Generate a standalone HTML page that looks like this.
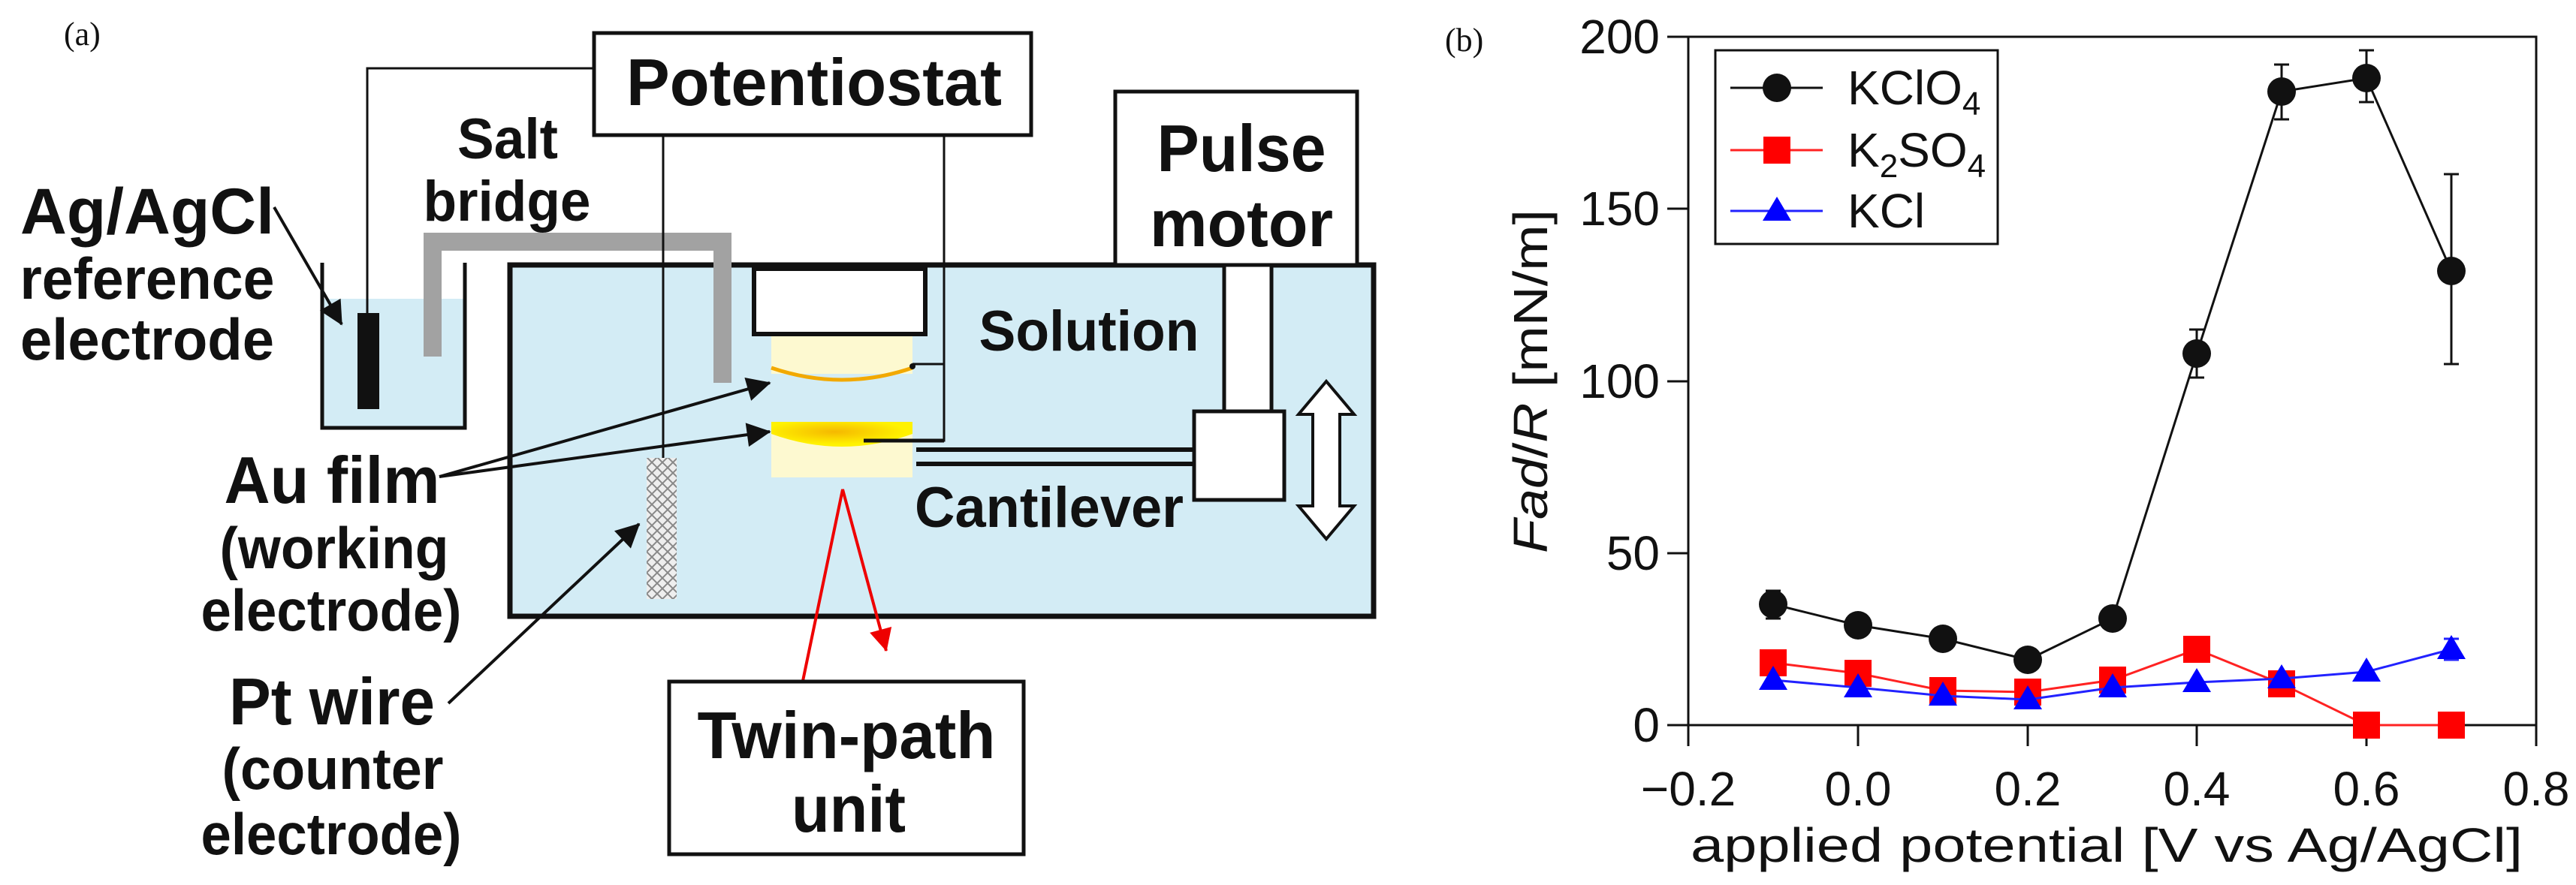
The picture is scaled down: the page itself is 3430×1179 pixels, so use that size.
<!DOCTYPE html>
<html><head><meta charset="utf-8"><style>
html,body{margin:0;padding:0;background:#fff;}
svg{display:block;}
.b{font-family:"Liberation Sans",sans-serif;font-weight:bold;fill:#111;}
.p{font-family:"Liberation Sans",sans-serif;fill:#111;}
</style></head><body>
<svg width="3430" height="1179" viewBox="0 0 3430 1179" xmlns="http://www.w3.org/2000/svg">
<defs>
<marker id="ah" markerWidth="10" markerHeight="10" refX="8" refY="5" orient="auto" markerUnits="userSpaceOnUse" viewBox="0 0 10 10" style="overflow:visible">
<path d="M0,0 L10,5 L0,10 Z" fill="#111" transform="scale(3.2) translate(-7,-3.4)"/>
</marker>
<marker id="ahr" markerWidth="10" markerHeight="10" refX="8" refY="5" orient="auto" markerUnits="userSpaceOnUse" viewBox="0 0 10 10" style="overflow:visible">
<path d="M0,0 L10,5 L0,10 Z" fill="#e00" transform="scale(3) translate(-7,-3.4)"/>
</marker>
<pattern id="mesh" width="14" height="14" patternUnits="userSpaceOnUse">
<rect width="14" height="14" fill="#eee"/>
<path d="M0,0 L14,14 M14,0 L0,14" stroke="#888" stroke-width="2"/>
</pattern>
<radialGradient id="gold" cx="0.45" cy="0.4" r="0.5">
<stop offset="0" stop-color="#f5b800"/><stop offset="1" stop-color="#fff200"/>
</radialGradient>
</defs>

<text x="85" y="60" font-family="Liberation Serif,serif" font-size="44" fill="#111">(a)</text>

<rect x="679" y="353" width="1150" height="468" fill="#d3ecf5" stroke="#111" stroke-width="7"/>

<rect x="429" y="398" width="190" height="172" fill="#d3ecf5"/>
<path d="M429,350 L429,570 L619,570 L619,350" fill="none" stroke="#111" stroke-width="5"/>
<rect x="476" y="417" width="29" height="128" fill="#111"/>

<path d="M576,475 L576,322 L962,322 L962,510" fill="none" stroke="#a2a2a2" stroke-width="24"/>

<rect x="791" y="44" width="582" height="136" fill="#fff" stroke="#111" stroke-width="5"/>
<text class="b" x="1084" y="140" font-size="88" text-anchor="middle" textLength="500" lengthAdjust="spacingAndGlyphs">Potentiostat</text>

<path d="M791,91 L489,91 L489,417" fill="none" stroke="#111" stroke-width="3"/>
<path d="M883,180 L883,610" fill="none" stroke="#111" stroke-width="3"/>
<path d="M1257,180 L1257,587 L1150,587 M1257,485 L1215,485" fill="none" stroke="#111" stroke-width="3"/>

<rect x="1485" y="122" width="322" height="231" fill="#fff" stroke="#111" stroke-width="5"/>
<text class="b" x="1653" y="228" font-size="88" text-anchor="middle" textLength="225" lengthAdjust="spacingAndGlyphs">Pulse</text>
<text class="b" x="1653" y="328" font-size="88" text-anchor="middle" textLength="244" lengthAdjust="spacingAndGlyphs">motor</text>

<rect x="1004" y="358" width="228" height="87" fill="#fff" stroke="#111" stroke-width="6"/>
<rect x="1027" y="448" width="188" height="50" fill="#fdf9d0"/>
<path d="M1027,490 Q1121,522 1215,490" fill="none" stroke="#f2a900" stroke-width="5"/>
<circle cx="1215" cy="488" r="4" fill="#111"/>
<rect x="1027" y="562" width="188" height="74" fill="#fdf9d0"/>
<path d="M1027,562 L1215,562 L1215,578 Q1121,612 1027,578 Z" fill="url(#gold)"/>
<path d="M1150,587 L1257,587" stroke="#111" stroke-width="5"/>

<path d="M1220,599 L1600,599 M1220,618 L1600,618" stroke="#111" stroke-width="6"/>
<rect x="1630" y="353" width="63" height="196" fill="#fff" stroke="#111" stroke-width="5"/>
<rect x="1590" y="548" width="120" height="118" fill="#fff" stroke="#111" stroke-width="5"/>
<path d="M1766,508 L1803,552 L1784,552 L1784,674 L1803,674 L1766,718 L1729,674 L1748,674 L1748,552 L1729,552 Z" fill="#fff" stroke="#111" stroke-width="4"/>

<rect x="861" y="610" width="40" height="188" fill="url(#mesh)"/>

<text class="b" x="1450" y="467" font-size="76" text-anchor="middle" textLength="293" lengthAdjust="spacingAndGlyphs">Solution</text>
<text class="b" x="1397" y="702" font-size="76" text-anchor="middle" textLength="358" lengthAdjust="spacingAndGlyphs">Cantilever</text>
<text class="b" x="676" y="211" font-size="76" text-anchor="middle" textLength="134" lengthAdjust="spacingAndGlyphs">Salt</text>
<text class="b" x="675" y="294" font-size="76" text-anchor="middle" textLength="223" lengthAdjust="spacingAndGlyphs">bridge</text>

<text class="b" x="196" y="311" font-size="86" text-anchor="middle" textLength="338" lengthAdjust="spacingAndGlyphs">Ag/AgCl</text>
<text class="b" x="196" y="398" font-size="78" text-anchor="middle" textLength="339" lengthAdjust="spacingAndGlyphs">reference</text>
<text class="b" x="196" y="479" font-size="78" text-anchor="middle" textLength="338" lengthAdjust="spacingAndGlyphs">electrode</text>

<text class="b" x="442" y="670" font-size="88" text-anchor="middle" textLength="287" lengthAdjust="spacingAndGlyphs">Au film</text>
<text class="b" x="445" y="757" font-size="78" text-anchor="middle" textLength="305" lengthAdjust="spacingAndGlyphs">(working</text>
<text class="b" x="441" y="840" font-size="78" text-anchor="middle" textLength="347" lengthAdjust="spacingAndGlyphs">electrode)</text>

<text class="b" x="442" y="965" font-size="88" text-anchor="middle" textLength="274" lengthAdjust="spacingAndGlyphs">Pt wire</text>
<text class="b" x="443" y="1051" font-size="78" text-anchor="middle" textLength="295" lengthAdjust="spacingAndGlyphs">(counter</text>
<text class="b" x="441" y="1138" font-size="78" text-anchor="middle" textLength="347" lengthAdjust="spacingAndGlyphs">electrode)</text>

<g stroke="#111" stroke-width="4" fill="none">
<path d="M365,276 L455,432" marker-end="url(#ah)"/>
<path d="M585,635 L1025,510" marker-end="url(#ah)"/>
<path d="M585,635 L1025,575" marker-end="url(#ah)"/>
<path d="M597,937 L851,698" marker-end="url(#ah)"/>
</g>
<path d="M1069,907 L1122,652 L1180,867" fill="none" stroke="#e00" stroke-width="4" marker-end="url(#ahr)"/>

<rect x="891" y="908" width="472" height="230" fill="#fff" stroke="#111" stroke-width="5"/>
<text class="b" x="1127" y="1010" font-size="88" text-anchor="middle" textLength="397" lengthAdjust="spacingAndGlyphs">Twin-path</text>
<text class="b" x="1130" y="1108" font-size="88" text-anchor="middle" textLength="152" lengthAdjust="spacingAndGlyphs">unit</text>

<text x="1924" y="68" font-family="Liberation Serif,serif" font-size="44" fill="#111">(b)</text>

<g class="p" font-size="64">
<text x="2210" y="71" text-anchor="end">200</text>
<text x="2210" y="300" text-anchor="end">150</text>
<text x="2210" y="530" text-anchor="end">100</text>
<text x="2210" y="759" text-anchor="end">50</text>
<text x="2210" y="988" text-anchor="end">0</text>
<text x="2248" y="1073" text-anchor="middle">−0.2</text>
<text x="2474" y="1073" text-anchor="middle">0.0</text>
<text x="2700" y="1073" text-anchor="middle">0.2</text>
<text x="2925" y="1073" text-anchor="middle">0.4</text>
<text x="3151" y="1073" text-anchor="middle">0.6</text>
<text x="3377" y="1073" text-anchor="middle">0.8</text>
<text x="2805" y="1148" text-anchor="middle" textLength="1108" lengthAdjust="spacingAndGlyphs">applied potential [V vs Ag/AgCl]</text>
<text transform="translate(2060,508) rotate(-90)" text-anchor="middle" textLength="458" lengthAdjust="spacingAndGlyphs"><tspan font-style="italic">Fad</tspan>/<tspan font-style="italic">R</tspan> [mN/m]</text>
</g>

<rect x="2248" y="49" width="1129" height="917" fill="none" stroke="#111" stroke-width="3"/>
<g stroke="#111" stroke-width="3">
<path d="M2220,49 H2248 M2220,278 H2248 M2220,508 H2248 M2220,737 H2248 M2220,966 H2248"/>
<path d="M2248,966 V994 M2474,966 V994 M2700,966 V994 M2925,966 V994 M3151,966 V994 M3377,966 V994"/>
</g>

<g stroke="#111" stroke-width="3" fill="none">
<polyline points="2361,805 2474,833 2587,851 2700,879 2813,824 2925,471 3038,122 3151,104 3264,361"/>
<path d="M2361,824 V787 M2351,824 H2371 M2351,787 H2371"/>
<path d="M2925,503 V439 M2915,503 H2935 M2915,439 H2935"/>
<path d="M3038,159 V86 M3028,159 H3048 M3028,86 H3048"/>
<path d="M3151,136 V67 M3141,136 H3161 M3141,67 H3161"/>
<path d="M3264,485 V232 M3254,485 H3274 M3254,232 H3274"/>
</g>
<g fill="#111">
<circle cx="2361" cy="805" r="19"/><circle cx="2474" cy="833" r="19"/><circle cx="2587" cy="851" r="19"/>
<circle cx="2700" cy="879" r="19"/><circle cx="2813" cy="824" r="19"/><circle cx="2925" cy="471" r="19"/>
<circle cx="3038" cy="122" r="19"/><circle cx="3151" cy="104" r="19"/><circle cx="3264" cy="361" r="19"/>
</g>

<polyline points="2361,883 2474,897 2587,920 2700,922 2813,906 2925,865 3038,911 3151,966 3264,966" fill="none" stroke="#f22" stroke-width="3"/>
<g fill="#f00">
<rect x="2343" y="865" width="36" height="36"/><rect x="2456" y="879" width="36" height="36"/>
<rect x="2569" y="902" width="36" height="36"/><rect x="2682" y="904" width="36" height="36"/>
<rect x="2795" y="888" width="36" height="36"/><rect x="2907" y="847" width="36" height="36"/>
<rect x="3020" y="893" width="36" height="36"/><rect x="3133" y="948" width="36" height="36"/>
<rect x="3246" y="948" width="36" height="36"/>
</g>

<polyline points="2361,906 2474,916 2587,927 2700,932 2813,916 2925,909 3038,904 3151,895 3264,865" fill="none" stroke="#22f" stroke-width="3"/>
<path d="M3264,879 V851 M3254,879 H3274 M3254,851 H3274" stroke="#22f" stroke-width="3"/>
<g fill="#00f">
<polygon points="2361,887 2380,919 2342,919"/><polygon points="2474,897 2493,929 2455,929"/>
<polygon points="2587,908 2606,940 2568,940"/><polygon points="2700,913 2719,945 2681,945"/>
<polygon points="2813,897 2832,929 2794,929"/><polygon points="2925,890 2944,922 2906,922"/>
<polygon points="3038,885 3057,917 3019,917"/><polygon points="3151,876 3170,908 3132,908"/>
<polygon points="3264,846 3283,878 3245,878"/>
</g>

<rect x="2284" y="67" width="376" height="258" fill="#fff" stroke="#111" stroke-width="3"/>
<path d="M2304,117 H2427" stroke="#111" stroke-width="3"/>
<circle cx="2366" cy="117" r="19" fill="#111"/>
<path d="M2304,200 H2427" stroke="#f22" stroke-width="3"/>
<rect x="2348" y="182" width="36" height="36" fill="#f00"/>
<path d="M2304,281 H2427" stroke="#22f" stroke-width="3"/>
<polygon points="2366,262 2385,294 2347,294" fill="#00f"/>
<g class="p" font-size="64">
<text x="2460" y="139">KClO<tspan font-size="44" dy="14">4</tspan></text>
<text x="2460" y="222">K<tspan font-size="44" dy="14">2</tspan><tspan dy="-14">SO</tspan><tspan font-size="44" dy="14">4</tspan></text>
<text x="2460" y="303">KCl</text>
</g>
</svg>
</body></html>
